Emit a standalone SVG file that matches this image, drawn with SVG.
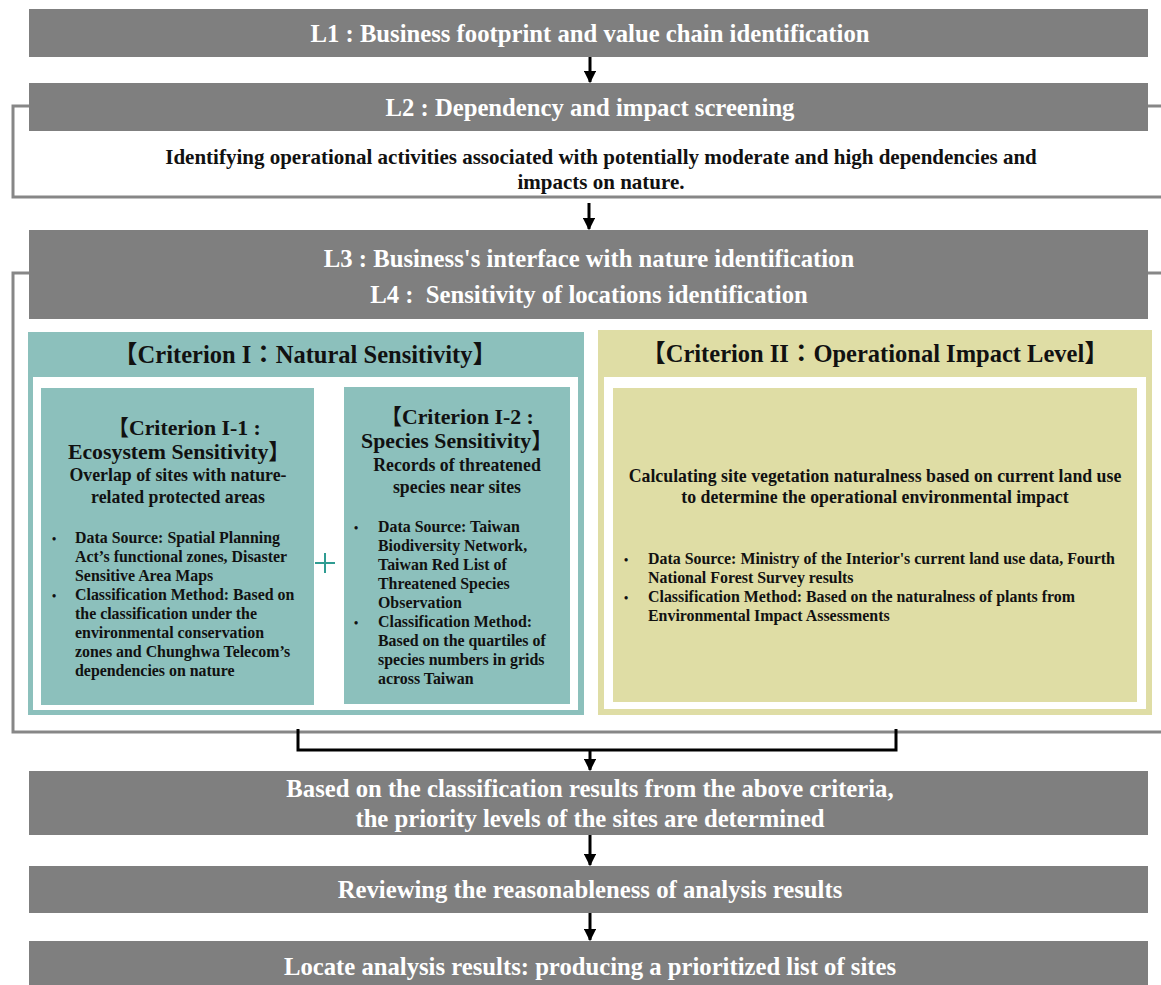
<svg xmlns="http://www.w3.org/2000/svg" width="1161" height="985" viewBox="0 0 1161 985">
  <defs>
    <style>
      .bar { fill: #7f7f7f; }
      .frame { fill: none; stroke: #878787; stroke-width: 3; }
      .teal { fill: #8cc0bc; }
      .khaki { fill: #dfdda5; }
      .white { fill: #ffffff; }
      .wt { font-family: "Liberation Serif", "Noto Sans CJK TC", serif; font-weight: bold; fill: #ffffff; text-anchor: middle; font-size: 24.7px; }
      .bt { font-family: "Liberation Serif", "Noto Sans CJK TC", serif; font-weight: bold; fill: #111111; text-anchor: middle; }
      .bl { font-family: "Liberation Serif", "Noto Sans CJK TC", serif; font-weight: bold; fill: #111111; font-size: 15.9px; }
      .dot { font-size: 12px; }
      .link { fill: none; stroke: #000000; stroke-width: 3; }
    </style>
    <marker id="head" viewBox="0 0 10 10" refX="9" refY="5" markerWidth="4.2" markerHeight="4.2" orient="auto" markerUnits="strokeWidth">
      <path d="M0,0 L10,5 L0,10 z" fill="#000000"/>
    </marker>
  </defs>
  <rect width="1161" height="985" fill="#ffffff"/>

  <!-- outline frames that wrap the L2 and L3/L4 stages -->
  <g id="frames">
    <path class="frame" d="M1161,106 H13 V197 H1161"/>
    <path class="frame" d="M1161,273 H13 V732 H1161"/>
  </g>

  <g id="l1">
    <rect class="bar" x="29" y="9" width="1119" height="48"/>
    <text class="wt" x="590" y="42">L1 : Business footprint and value chain identification</text>
  </g>

  <g id="l2">
    <rect class="bar" x="29" y="83" width="1119" height="48"/>
    <text class="wt" x="590" y="116">L2 : Dependency and impact screening</text>
    <text class="bt" x="601" y="164" font-size="21">Identifying operational activities associated with potentially moderate and high dependencies and</text>
    <text class="bt" x="601" y="189" font-size="21">impacts on nature.</text>
  </g>

  <g id="l3-l4">
    <rect class="bar" x="29" y="230" width="1119" height="89"/>
    <text class="wt" x="589" y="267">L3 : Business's interface with nature identification</text>
    <text class="wt" x="589" y="303" style="white-space:pre">L4 :  Sensitivity of locations identification</text>
  </g>

  <g id="criterion-1">
    <rect class="teal" x="28" y="332" width="556" height="383"/>
    <rect class="white" x="33" y="377" width="545" height="333"/>
    <text class="bt" x="305" y="363" font-size="24.5">【Criterion I：Natural Sensitivity】</text>
  </g>

  <g id="criterion-1-1">
    <rect class="teal" x="41" y="388" width="273" height="317"/>
    <text class="bt" x="184" y="435" font-size="21.8">【Criterion I-1 :</text>
    <text class="bt" x="179" y="459" font-size="21.8">Ecosystem Sensitivity】</text>
    <text class="bt" x="178" y="481" font-size="17.8">Overlap of sites with nature-</text>
    <text class="bt" x="178" y="503" font-size="17.8">related protected areas</text>
    <g class="bl">
      <text class="dot" x="52" y="543">•</text>
      <text x="75" y="543">Data Source: Spatial Planning</text>
      <text x="75" y="562">Act’s functional zones, Disaster</text>
      <text x="75" y="581">Sensitive Area Maps</text>
      <text class="dot" x="52" y="600">•</text>
      <text x="75" y="600">Classification Method: Based on</text>
      <text x="75" y="619">the classification under the</text>
      <text x="75" y="638">environmental conservation</text>
      <text x="75" y="657">zones and Chunghwa Telecom’s</text>
      <text x="75" y="676">dependencies on nature</text>
    </g>
  </g>

  <g id="plus">
    <path d="M315,563 H335 M325,553 V573" stroke="#2f9c92" stroke-width="2" fill="none"/>
  </g>

  <g id="criterion-1-2">
    <rect class="teal" x="344" y="387" width="226" height="317"/>
    <text class="bt" x="457" y="424" font-size="21.8">【Criterion I-2 :</text>
    <text class="bt" x="457" y="448" font-size="21.8">Species Sensitivity】</text>
    <text class="bt" x="457" y="471" font-size="17.8">Records of threatened</text>
    <text class="bt" x="457" y="493" font-size="17.8">species near sites</text>
    <g class="bl">
      <text class="dot" x="354" y="532">•</text>
      <text x="378" y="532">Data Source: Taiwan</text>
      <text x="378" y="551">Biodiversity Network,</text>
      <text x="378" y="570">Taiwan Red List of</text>
      <text x="378" y="589">Threatened Species</text>
      <text x="378" y="608">Observation</text>
      <text class="dot" x="354" y="627">•</text>
      <text x="378" y="627">Classification Method:</text>
      <text x="378" y="646">Based on the quartiles of</text>
      <text x="378" y="665">species numbers in grids</text>
      <text x="378" y="684">across Taiwan</text>
    </g>
  </g>

  <g id="criterion-2">
    <rect class="khaki" x="598" y="330" width="554" height="385"/>
    <rect class="white" x="604" y="377" width="542" height="332"/>
    <rect class="khaki" x="613" y="388" width="524" height="314"/>
    <text class="bt" x="875" y="362" font-size="24.5">【Criterion II：Operational Impact Level】</text>
    <text class="bt" x="875" y="482" font-size="17.8">Calculating site vegetation naturalness based on current land use</text>
    <text class="bt" x="875" y="503" font-size="17.8">to determine the operational environmental impact</text>
    <g class="bl">
      <text class="dot" x="624" y="564">•</text>
      <text x="648" y="564">Data Source: Ministry of the Interior's current land use data, Fourth</text>
      <text x="648" y="583">National Forest Survey results</text>
      <text class="dot" x="624" y="602">•</text>
      <text x="648" y="602">Classification Method: Based on the naturalness of plants from</text>
      <text x="648" y="621">Environmental Impact Assessments</text>
    </g>
  </g>

  <g id="priority">
    <rect class="bar" x="29" y="771" width="1119" height="64"/>
    <text class="wt" x="590" y="797">Based on the classification results from the above criteria,</text>
    <text class="wt" x="590" y="827">the priority levels of the sites are determined</text>
  </g>

  <g id="review">
    <rect class="bar" x="29" y="866" width="1119" height="47"/>
    <text class="wt" x="590" y="898">Reviewing the reasonableness of analysis results</text>
  </g>

  <g id="locate">
    <rect class="bar" x="29" y="941" width="1119" height="50"/>
    <text class="wt" x="590" y="975">Locate analysis results: producing a prioritized list of sites</text>
  </g>

  <g id="connectors">
    <line class="link" x1="590" y1="57" x2="590" y2="82" marker-end="url(#head)"/>
    <line class="link" x1="589" y1="203" x2="589" y2="229" marker-end="url(#head)"/>
    <path class="link" d="M298,729 V750 H896 V729"/>
    <line class="link" x1="590" y1="750" x2="590" y2="770" marker-end="url(#head)"/>
    <line class="link" x1="590" y1="835" x2="590" y2="865" marker-end="url(#head)"/>
    <line class="link" x1="590" y1="913" x2="590" y2="940" marker-end="url(#head)"/>
  </g>
</svg>
